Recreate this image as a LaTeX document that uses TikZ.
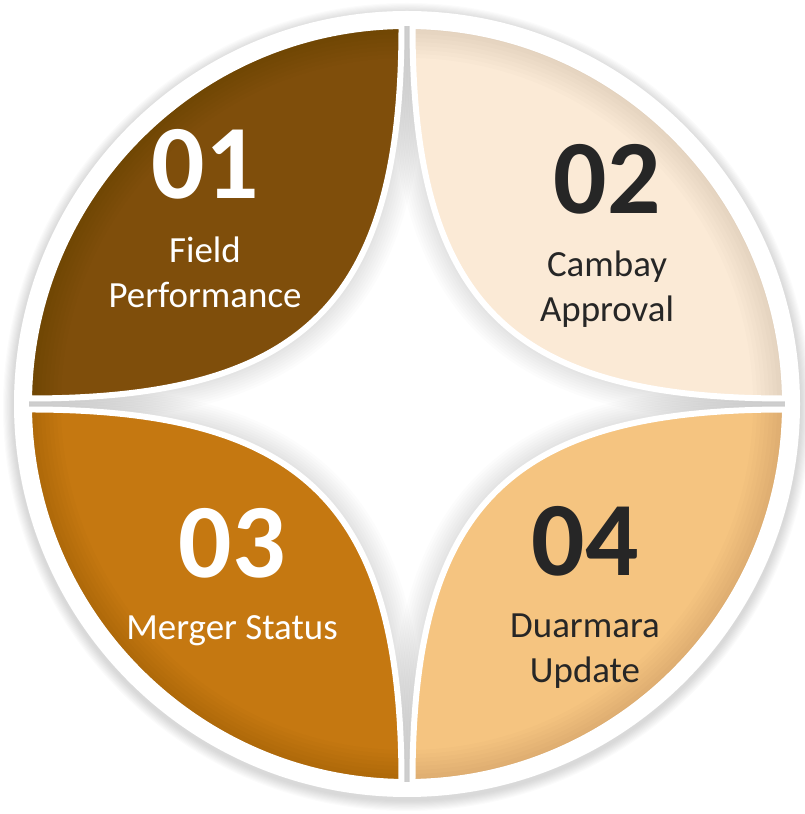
\documentclass[tikz,border=0pt]{standalone}
\usepackage{fontspec}
\setmainfont{Carlito}
\usetikzlibrary{positioning}
\definecolor{segA}{RGB}{127,78,11}
\definecolor{segB}{RGB}{251,234,214}
\definecolor{segC}{RGB}{197,120,17}
\definecolor{segD}{RGB}{245,196,128}
\definecolor{darktext}{RGB}{38,38,38}
\tikzset{
  num/.style={inner sep=0pt, font=\fontsize{30}{36}\selectfont\bfseries},
  lbl/.style={inner sep=0pt, align=center, font=\fontsize{10.5}{12.7}\selectfont, node distance=3.6mm},
  lens/.style={draw=white, line width=1.7pt, line join=round}
}

\begin{document}
\begin{tikzpicture}
  \useasboundingbox (0,0) rectangle (8.04,8.14);
  \coordinate (C) at (4.07,4.10);

  % soft shadow under the white ring
  \foreach \i in {1,...,10}
    \fill[black, opacity=0.016] (C) ++(0,-0.03) circle ({3.93+0.011*\i});
  \fill[white] (C) circle (3.93);

  \begin{scope}[shift={(C)}]
    \def\R{3.78}
    \def\g{0.055}
    \def\m{1.02}
    \pgfmathsetmacro\d{asin(\g/\R)}
    \pgfmathsetmacro\Rt{sqrt(\R*\R-\g*\g)}
    % one leaf in the upper left quarter, the others are turned copies
    \def\leaf{(-\g,\Rt) arc[start angle=90+\d, end angle=180-\d, radius=\R]
      .. controls (-\m,\g) and (-\g,\m) .. (-\g,\Rt) -- cycle}

    % shadows of the leaves
    \begin{scope}
      \clip (0,0) circle (\R);
      \foreach \r in {0,-90,90,180}
        \foreach \w in {1,...,10}
          \draw[black, opacity=0.012, line width=\w*0.05cm, line join=round, rotate=\r] \leaf;
    \end{scope}

    % the leaves, darker toward the rim
    \foreach \r/\c in {0/segA,-90/segB,90/segC,180/segD} {
      \begin{scope}[rotate=\r]
        \begin{scope}
          \clip \leaf;
          \fill[\c] (0,0) circle (\R);
          \foreach \w in {1,...,8}
            \draw[black, opacity=0.012, line width=\w*0.08cm] (0,0) circle (\R);
        \end{scope}
        \draw[lens] \leaf;
      \end{scope}
    }
  \end{scope}

  \node[num, text=white] (n1) at (2.05,6.495) {01};
  \node[lbl, text=white, below=of n1] (l1) {Field\\Performance};
  \node[num, text=darktext] (n2) at (6.07,6.35) {02};
  \node[lbl, text=darktext, below=of n2] (l2) {Cambay\\Approval};
  \node[num, text=white] (n3) at (2.32,2.705) {03};
  \node[lbl, text=white, below=of n3] (l3) {Merger Status};
  \node[num, text=darktext] (n4) at (5.85,2.725) {04};
  \node[lbl, text=darktext, below=of n4] (l4) {Duarmara\\Update};
\end{tikzpicture}
\end{document}
